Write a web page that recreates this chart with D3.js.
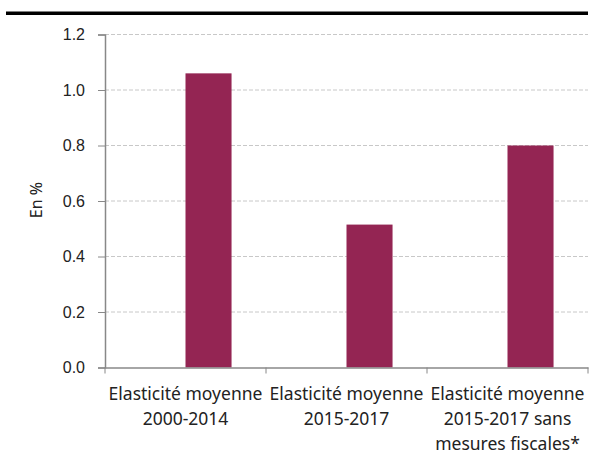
<!DOCTYPE html>
<html>
<head>
<meta charset="utf-8">
<script src="https://cdn.jsdelivr.net/npm/d3@7"></script>
<style>
  body { margin: 0; background: #fff; }
  svg { display: block; font-family: "Noto Sans", "Open Sans", sans-serif; }
</style>
</head>
<body>
<svg id="chart" width="592" height="455"></svg>
<script>
const categories = [
  ["Elasticité moyenne", "2000-2014"],
  ["Elasticité moyenne", "2015-2017"],
  ["Elasticité moyenne", "2015-2017 sans", "mesures fiscales*"]
];
const values = [1.06, 0.515, 0.80];
const yTicks = [0, 0.2, 0.4, 0.6, 0.8, 1.0, 1.2];

const svg = d3.select("#chart");
const margin = { top: 34.5, right: 4, bottom: 87.5, left: 105 };
const width = 592 - margin.left - margin.right;
const height = 455 - margin.top - margin.bottom;

// top black rule
svg.append("rect")
  .attr("x", 6).attr("y", 11.5)
  .attr("width", 582).attr("height", 3.5)
  .attr("fill", "#000");

const g = svg.append("g")
  .attr("transform", `translate(${margin.left},${margin.top})`);

const x = d3.scaleBand()
  .domain(d3.range(categories.length))
  .range([0, width]);

const y = d3.scaleLinear()
  .domain([0, 1.2])
  .range([height, 0]);

// gridlines
g.selectAll(".grid")
  .data(yTicks.filter(d => d > 0))
  .enter()
  .append("line")
  .attr("x1", 0).attr("x2", width)
  .attr("y1", d => y(d)).attr("y2", d => y(d))
  .attr("stroke", "#c8c8c8")
  .attr("stroke-dasharray", "4,2");

// bars (start at band centre)
const barW = x.bandwidth() * 0.286;
g.selectAll(".bar")
  .data(values)
  .enter()
  .append("rect")
  .attr("x", (d, i) => x(i) + x.bandwidth() / 2)
  .attr("y", d => y(d))
  .attr("width", barW)
  .attr("height", d => height - y(d))
  .attr("fill", "#942553");

// y axis
const yAxis = g.append("g")
  .call(d3.axisLeft(y).tickValues(yTicks).tickFormat(d3.format(".1f")).tickSize(7).tickPadding(13));
yAxis.select(".domain").attr("stroke", "#888").attr("stroke-width", 1.5);
yAxis.selectAll(".tick line").attr("stroke", "#888");
yAxis.selectAll("text").attr("font-size", 16).attr("fill", "#222");

// x axis
const xAxis = g.append("g")
  .attr("transform", `translate(0,${height})`)
  .call(d3.axisBottom(x).tickValues([]).tickSizeOuter(0));
xAxis.select(".domain").attr("stroke", "#888").attr("stroke-width", 1.5);
xAxis.selectAll(".sep")
  .data(d3.range(categories.length + 1))
  .enter()
  .append("line")
  .attr("x1", i => i * x.step()).attr("x2", i => i * x.step())
  .attr("y1", 0).attr("y2", 6)
  .attr("stroke", "#888");

// category labels
const labels = g.selectAll(".cat")
  .data(categories)
  .enter()
  .append("text")
  .attr("text-anchor", "middle")
  .attr("font-size", 17.5)
  .attr("fill", "#222")
  .attr("x", (d, i) => x(i) + x.bandwidth() / 2)
  .attr("y", height + 32.5);
labels.selectAll("tspan")
  .data(d => d)
  .enter()
  .append("tspan")
  .attr("x", function () { return d3.select(this.parentNode).attr("x"); })
  .attr("dy", (d, i) => i === 0 ? 0 : 25)
  .text(d => d);

// y axis title
svg.append("text")
  .attr("transform", "translate(42,200) rotate(-90)")
  .attr("text-anchor", "middle")
  .attr("font-size", 16)
  .attr("fill", "#222")
  .text("En %");
</script>
</body>
</html>
